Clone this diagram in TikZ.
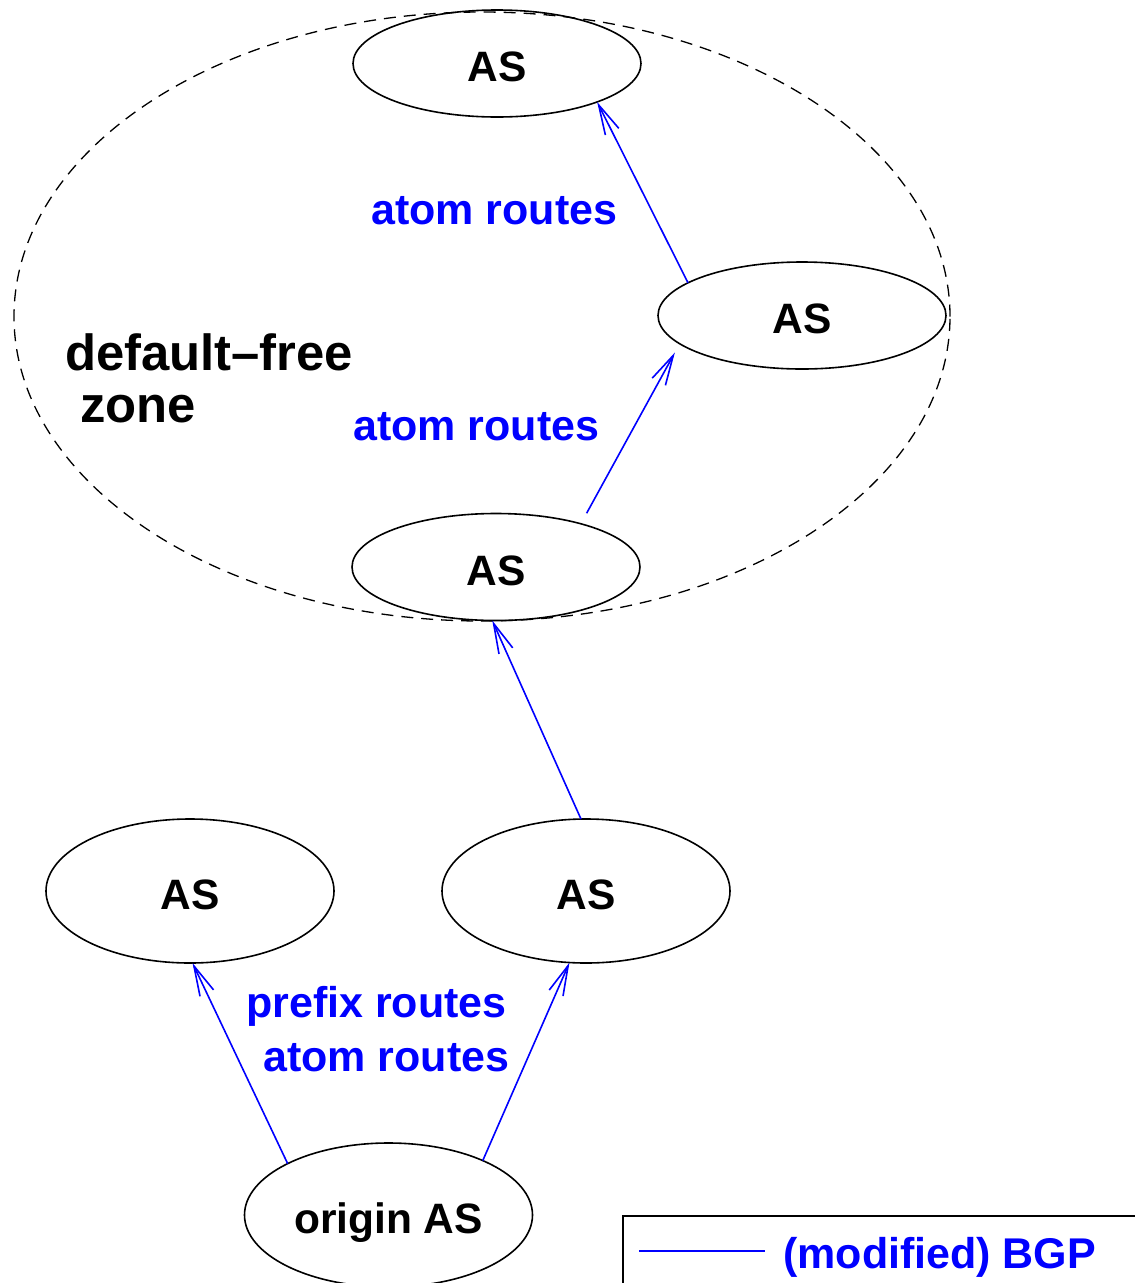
\documentclass[tikz,border=0pt]{standalone}
\usepackage{fontspec}
\setmainfont{Liberation Sans}
\usetikzlibrary{arrows.meta,shapes.geometric}
\begin{document}
\begin{tikzpicture}[x=1pt,y=-1pt,
  asnode/.style={draw=black, line width=1.6pt, ellipse, inner sep=0pt, outer sep=0pt,
    minimum width=288pt, minimum height=107pt, text height=36pt, text depth=0pt,
    font=\fontsize{42.5}{50}\selectfont\bfseries},
  asbig/.style={asnode, minimum height=144pt},
  zoneshape/.style={draw=black, line width=1.3pt, dash pattern=on 12pt off 8pt, ellipse,
    inner sep=0pt, outer sep=0pt, minimum width=936pt, minimum height=609pt},
  bgp/.style={draw=blue, line width=1.6pt, -{Straight Barb[length=30pt,width=15pt]}},
  bluelabel/.style={text=blue, font=\fontsize{43}{50}\selectfont\bfseries, inner sep=0pt, anchor=base west},
  zonelabel/.style={font=\fontsize{50.8}{60}\selectfont\bfseries, inner sep=0pt, anchor=base west},
  legendbox/.style={draw=black, line width=1.6pt, anchor=north west, inner sep=0pt,
    minimum width=540pt, minimum height=90pt},
]
\useasboundingbox (0,0) rectangle (1135,1283);

% default-free zone
\node[zoneshape] (dfz) at (482,316.5) {};
\node[zonelabel] (dfzA) at (65,370) {default–free};
\node[zonelabel] (dfzB) at (80,422) {zone};

% AS nodes
\node[asnode] (T) at (497,63.5) {AS};
\node[asnode] (R) at (802,315.5) {AS};
\node[asnode] (M) at (496,567) {AS};
\node[asbig] (LL) at (190,891) {AS};
\node[asbig] (LR) at (586,891) {AS};
\node[asbig] (O) at (388.5,1215) {origin AS};

% connectors
\draw[bgp] (R.164.1) -- (T.-21.6);
\draw[bgp, shorten <=12pt, shorten >=10pt] (M.27) -- (R.193.1);
\draw[bgp] (LR.94.8) -- (M.-94);
\draw[bgp] (O.153.5) -- (LL.-88.4);
\draw[bgp] (O.30.2) -- (LR.257.6);

% labels
\node[bluelabel] (l1) at (371,224) {atom routes};
\node[bluelabel] (l2) at (353,440) {atom routes};
\node[bluelabel] (l3) at (246,1017) {prefix routes};
\node[bluelabel] (l4) at (263,1071) {atom routes};

% legend
\node[legendbox] (leg) at (622,1215) {};
\coordinate (legA) at (639,1251);
\coordinate (legB) at (765,1251);
\draw[draw=blue, line width=1.6pt] (legA) -- (legB);
\node[bluelabel] (legT) at (783,1268) {(modified) BGP};
\end{tikzpicture}
\end{document}
